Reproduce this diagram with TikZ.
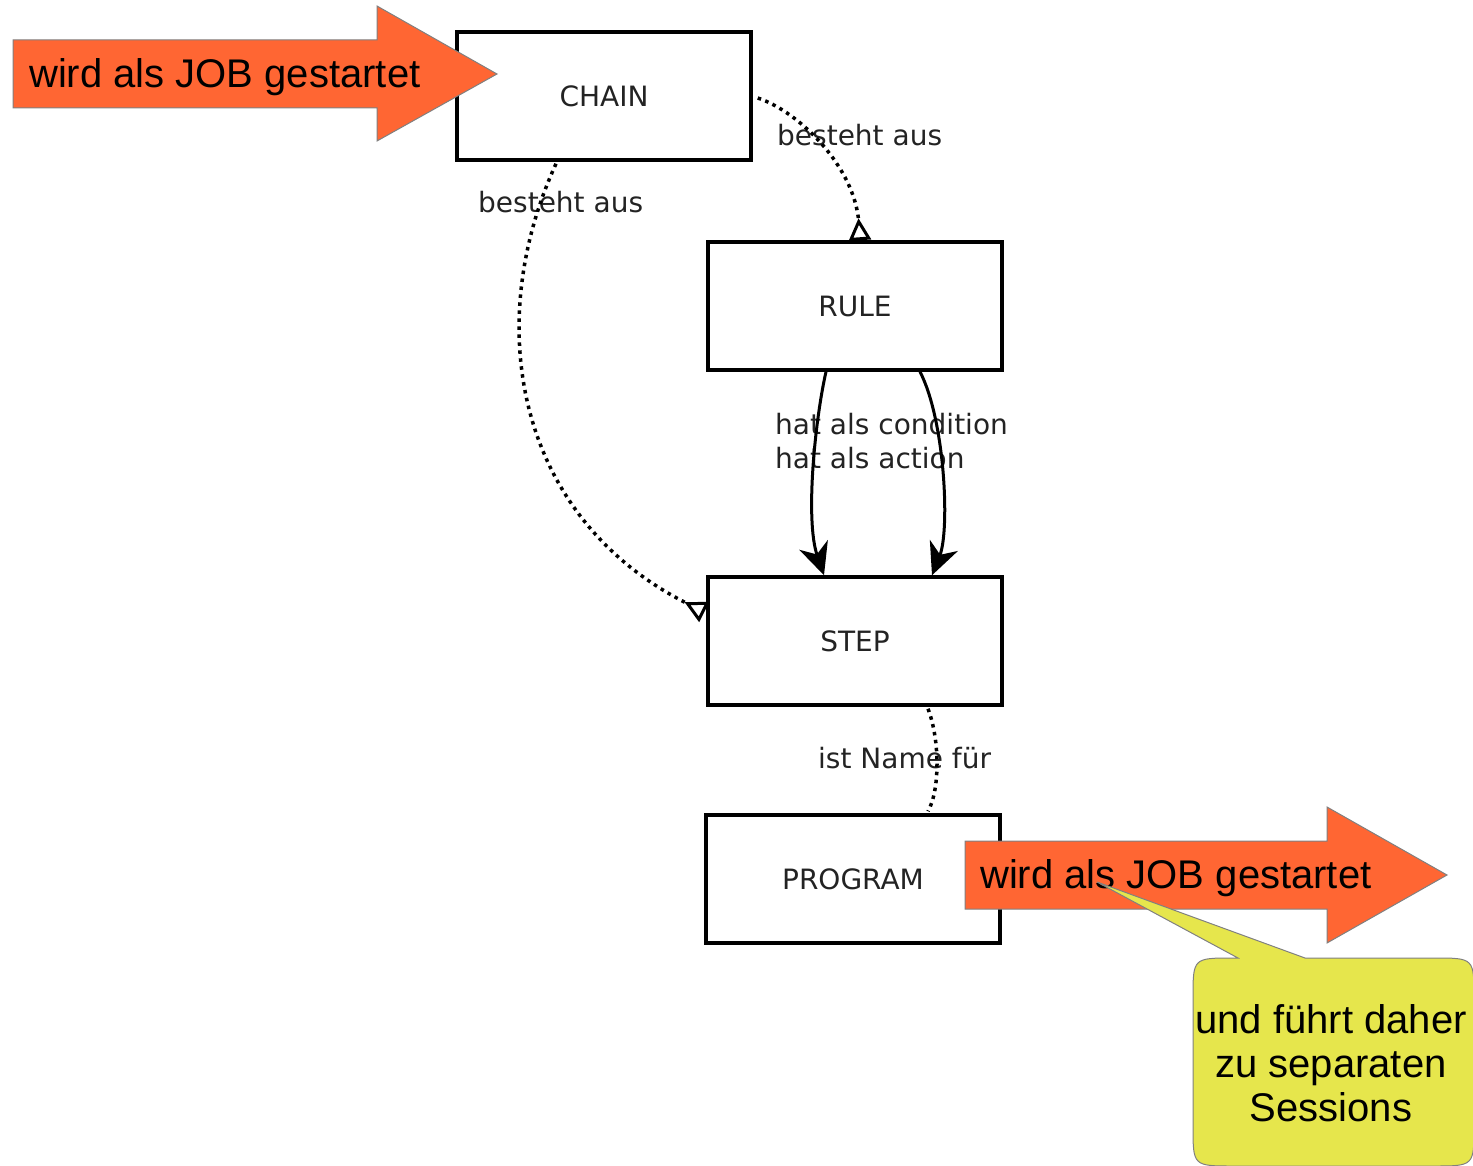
\documentclass[tikz,border=0pt]{standalone}
\usepackage{fontspec}
\setmainfont{Liberation Sans}
\newfontfamily\dvsans{DejaVu Sans}
\usetikzlibrary{arrows.meta,calc}
\definecolor{jobarrow}{RGB}{255,102,51}
\definecolor{notefill}{RGB}{230,230,76}
\definecolor{labelgray}{RGB}{35,35,35}
\definecolor{edgegray}{RGB}{128,128,128}
\tikzset{
  entity/.style={draw=black, line width=3.5pt, minimum width=294pt,
    minimum height=128pt, inner sep=0pt,
    font=\dvsans\fontsize{28}{32}\selectfont, text=labelgray},
  rel/.style={font=\dvsans\fontsize{28}{34}\selectfont, text=labelgray,
    inner sep=0pt},
  assoc/.style={line width=3.5pt, dash pattern=on 3.5pt off 4.5pt},
  assochead/.style={assoc,
    -{Triangle[open,reversed,length=22pt,width=22pt,line width=3pt]}},
  flow/.style={line width=3pt, -{Stealth[length=32pt,width=30pt,inset=10pt]}},
  jobshape/.style={fill=jobarrow, draw=edgegray, line width=1pt},
  jobtext/.style={font=\fontsize{40}{44}\selectfont, inner sep=0pt},
  notetext/.style={font=\fontsize{40}{44}\selectfont, align=center, inner sep=0pt},
  noteshape/.style={fill=notefill, draw=edgegray, line width=1pt}
}
\begin{document}
\begin{tikzpicture}[x=1pt, y=-1pt]
\useasboundingbox (0,0) rectangle (1473,1166);

% entities
\node[entity] (chain)   at (604,96)  {CHAIN};
\node[entity] (rule)    at (855,306) {RULE};
\node[entity] (step)    at (855,641) {STEP};
\node[entity] (program) at (853,879) {PROGRAM};

% relation labels
\node[rel, anchor=base west] (lbrule)  at (777,146) {besteht aus};
\node[rel, anchor=base west] (lbstep)  at (478,213) {besteht aus};
\node[rel, anchor=base west] (lcond)   at (775,434) {hat als condition};
\node[rel, anchor=base west] (lact)    at (775,468) {hat als action};
\node[rel, anchor=base west] (lname)   at (818,768) {ist Name für};

% CHAIN consists of RULEs and STEPs
\draw[assochead] ($(chain.east)+(5,2)$)
  .. controls (800,112) and (855,168) .. ($(rule.north)+(5,0)$);
\draw[assochead] ($(chain.south)+(-48,2)$)
  .. controls (480,330) and (520,520) .. ($(step.west)+(-2,-29)$);

% RULE -> STEP (condition / action)
\draw[flow] ($(rule.south)+(-29,0)$)
  .. controls (815,420) and (805,520) .. ($(step.north)+(-31,0)$);
\draw[flow] ($(rule.south)+(65,0)$)
  .. controls (945,420) and (950,530) .. ($(step.north)+(77,0)$);

% STEP names a PROGRAM
\draw[assoc] ($(step.south)+(73,2)$)
  .. controls (940,740) and (940,790) .. ($(program.north)+(75,-2)$);

% job start markers
\draw[jobshape] (13,40) -- (377,40) -- (377,6) -- (497,74) -- (377,141)
  -- (377,108) -- (13,108) -- cycle;
\node[jobtext, anchor=base west] (job1) at (29,88) {wird als JOB gestartet};

\draw[jobshape] (965,841) -- (1327,841) -- (1327,807) -- (1447,875)
  -- (1327,943) -- (1327,909) -- (965,909) -- cycle;
\node[jobtext, anchor=base west] (job2) at (980,888) {wird als JOB gestartet};

% callout
\draw[noteshape] (1193,1126) -- (1193,998) .. controls (1193,958) .. (1233,958)
  -- (1238,958) -- (1097,882) -- (1305,958) -- (1434,958)
  .. controls (1474,958) .. (1474,998) -- (1474,1126)
  .. controls (1474,1166) .. (1434,1166) -- (1233,1166)
  .. controls (1193,1166) .. (1193,1126) -- cycle;
\node[notetext, anchor=base] (note) at (1331,1121)
  {und führt daher\\zu separaten\\Sessions};
\end{tikzpicture}
\end{document}
